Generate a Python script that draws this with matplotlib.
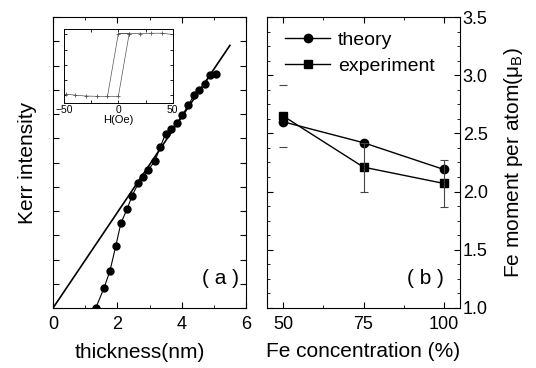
import matplotlib
matplotlib.use("Agg")
import matplotlib.pyplot as plt
import numpy as np
from matplotlib.ticker import MultipleLocator, NullFormatter

plt.rcParams['font.family'] = ['Liberation Sans', 'DejaVu Sans']

# panel (a): Kerr intensity vs thickness
thickness = [1.33, 1.59, 1.77, 1.95, 2.11, 2.30, 2.46, 2.65, 2.81, 2.96, 3.17,
             3.33, 3.50, 3.66, 3.86, 4.02, 4.21, 4.38, 4.55, 4.72, 4.88, 5.07]
kerr = [0.0, 0.84, 1.53, 2.54, 3.50, 4.07, 4.63, 5.14, 5.41, 5.69, 6.07,
        6.63, 7.18, 7.38, 7.64, 7.96, 8.37, 8.78, 8.99, 9.22, 9.61, 9.65]
fit_x = [0.0, 5.5]
fit_y = [0.0, 10.83]

# inset: hysteresis loop
loop_h = [-48, -40, -30, -20, -10, 0, 10, 0, 10, 20, 30, 40, 50]
loop_m = [-0.97, -1.0, -1.03, -1.04, -1.04, -1.04, 1.03, 1.03, 1.03, 1.03, 1.04, 1.04, 1.0]
loop_h2 = [-10, 0]
loop_m2 = [-1.04, 1.03]

# panel (b): Fe moment vs concentration
conc = [50, 75, 100]
theory = [2.60, 2.42, 2.19]
experiment = [2.65, 2.21, 2.07]
exp_err = [0.265, 0.21, 0.205]

fig = plt.figure(figsize=(5.36, 3.68), dpi=100)
ax1 = fig.add_axes([53/536, 60/368, 193/536, 291/368])
ax2 = fig.add_axes([267/536, 60/368, 193/536, 291/368])
ins = fig.add_axes([64/536, 265.3/368, 108.7/536, 73.4/368])

# ---- panel (a)
ax1.plot(fit_x, fit_y, color='black', lw=1.2)
ax1.plot(thickness, kerr, color='black', lw=0.8, marker='o', ms=5)
ax1.set_xlim(0, 6)
ax1.set_ylim(0, 12)
ax1.xaxis.set_major_locator(MultipleLocator(2))
ax1.xaxis.set_minor_locator(MultipleLocator(1))
ax1.yaxis.set_major_locator(MultipleLocator(1))
ax1.yaxis.set_major_formatter(NullFormatter())
ax1.tick_params(which='both', direction='in', top=True, right=True, labelsize=13, pad=6)
ax1.tick_params(which='major', length=4)
ax1.tick_params(which='minor', length=2.5)
ax1.set_xlabel('thickness(nm)', fontsize=15, labelpad=6)
ax1.xaxis.set_label_coords(0.45, -0.12)
ax1.set_ylabel('Kerr intensity', fontsize=15)
ax1.yaxis.set_label_coords(-0.085, 0.5)
ax1.text(0.87, 0.1, '( a )', transform=ax1.transAxes, fontsize=15, ha='center', va='center')

# ---- inset
ins.plot(loop_h, loop_m, color='#555555', lw=0.5, marker='+', ms=2.5, mew=0.6)
ins.plot(loop_h2, loop_m2, color='#555555', lw=0.5)
ins.set_xlim(-50, 50)
ins.set_ylim(-1.25, 1.17)
ins.xaxis.set_major_locator(MultipleLocator(50))
ins.xaxis.set_minor_locator(MultipleLocator(25))
ins.yaxis.set_major_locator(MultipleLocator(0.5))
ins.yaxis.set_major_formatter(NullFormatter())
ins.tick_params(which='both', direction='in', top=True, right=True, labelsize=7.5, pad=1.5, length=2, width=0.6)
for s in ins.spines.values():
    s.set_linewidth(0.7)
ins.set_xlabel('H(Oe)', fontsize=8, labelpad=0.5)

# ---- panel (b)
ax2.plot(conc, theory, color='black', lw=1.0, marker='o', ms=6, label='theory')
ax2.plot(conc, experiment, color='black', lw=1.0, marker='s', ms=5.5, label='experiment')
eb = ax2.errorbar(conc, experiment, yerr=exp_err, fmt='none', ecolor='#444444',
                  elinewidth=0.8, capsize=3, capthick=0.8)
eb[2][0].set_color(['none', '#444444', '#444444'])
ax2.set_xlim(45, 105)
ax2.set_ylim(1.0, 3.5)
ax2.set_xticks(conc)
ax2.xaxis.set_minor_locator(MultipleLocator(12.5))
ax2.yaxis.set_major_locator(MultipleLocator(0.5))
ax2.yaxis.set_minor_locator(MultipleLocator(0.125))
ax2.yaxis.tick_right()
ax2.yaxis.set_label_position('right')
ax2.tick_params(which='both', direction='in', top=True, left=True, right=True, labelsize=13, pad=6)
ax2.tick_params(axis='y', which='both', pad=2)
ax2.tick_params(which='major', length=4)
ax2.tick_params(which='minor', length=2.5)
ax2.set_xlabel('Fe concentration (%)', fontsize=15, labelpad=6)
ax2.set_ylabel(r'Fe moment per atom($\mathregular{\mu_B}$)', fontsize=15, labelpad=10)
ax2.text(0.82, 0.1, '( b )', transform=ax2.transAxes, fontsize=15, ha='center', va='center')
ax2.legend(loc='upper left', bbox_to_anchor=(0.045, 0.985), fontsize=14, frameon=False,
           handlelength=2.3, handletextpad=0.4, labelspacing=0.45, borderaxespad=0.1)

fig.savefig('out.png', dpi=100)
